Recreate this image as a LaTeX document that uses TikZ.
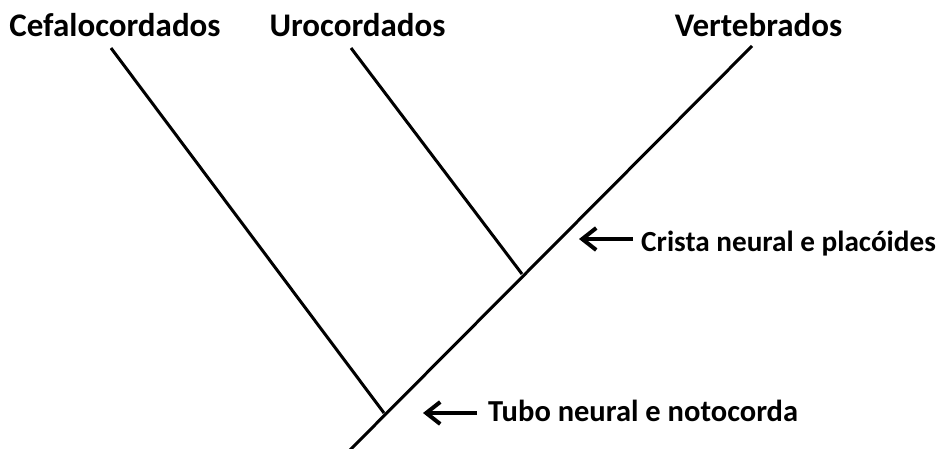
\documentclass[tikz,border=0pt]{standalone}
\usepackage{fontspec}
\setmainfont{Carlito}
\usetikzlibrary{arrows.meta}
\begin{document}
\begin{tikzpicture}[x=1pt,y=-1pt,
  branch/.style={line width=3pt},
  pointer/.style={line width=4pt,-{Straight Barb[length=14pt,width=22pt]}},
  taxon/.style={font=\fontsize{33}{36}\selectfont\bfseries,inner sep=0pt,anchor=base},
  trait/.style={font=\fontsize{30}{34}\selectfont\bfseries,inner sep=0pt,anchor=base west}]
\useasboundingbox (0,0) rectangle (943,448);
% labels
\node[taxon] (cef) at (115,36) {Cefalocordados};
\node[taxon] (uro) at (357.5,36) {Urocordados};
\node[taxon] (ver) at (758.5,36) {Vertebrados};
\node[trait,font=\fontsize{29.2}{34}\selectfont\bfseries] (cri) at (641,251) {Crista neural e placóides};
\node[trait,font=\fontsize{30.5}{34}\selectfont\bfseries] (tub) at (488,421) {Tubo neural e notocorda};
% tree coordinates
\coordinate (root) at (348,452);
\coordinate (n1) at (384,413);
\coordinate (n2) at (522,274);
\coordinate (tv) at (752,46);
\coordinate (tc) at (111,48);
\coordinate (tu) at (351,48);
% branches
\draw[branch] (root) -- (tv);
\draw[branch] (tc) -- (n1);
\draw[branch] (tu) -- (n2);
% arrows
\coordinate (a1s) at (633,239);
\coordinate (a1e) at (579,239);
\coordinate (a2s) at (477,413);
\coordinate (a2e) at (423,413);
\draw[pointer] (a1s) -- (a1e);
\draw[pointer] (a2s) -- (a2e);
\end{tikzpicture}
\end{document}
